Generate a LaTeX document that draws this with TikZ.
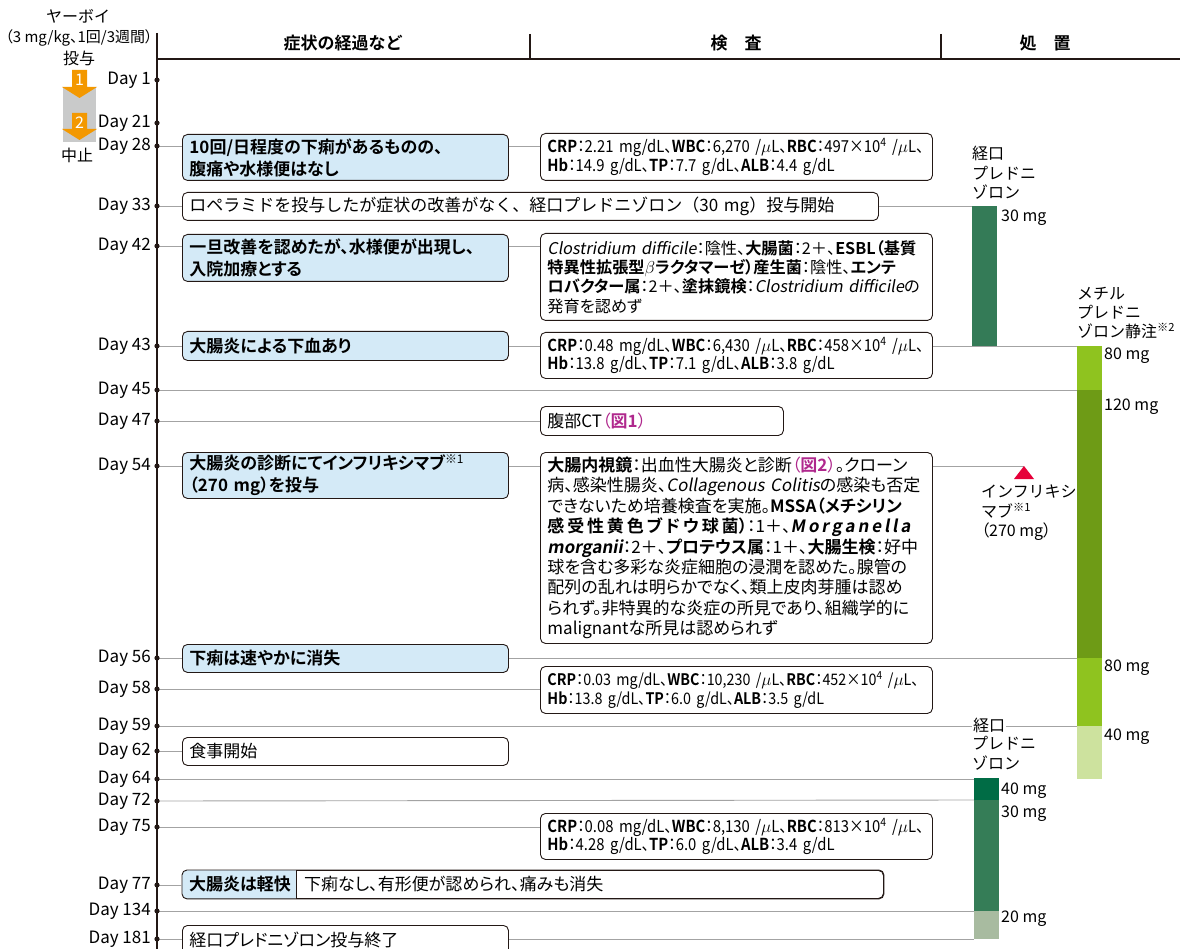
\documentclass[tikz,border=0pt]{standalone}
\usepackage{fontspec}
\setmainfont{Noto Sans CJK JP}[BoldFont={Noto Sans CJK JP Bold},ItalicFont={Noto Sans CJK JP},ItalicFeatures={FakeSlant=0.18},BoldItalicFont={Noto Sans CJK JP Bold},BoldItalicFeatures={FakeSlant=0.18}]
\newfontfamily\labf{Noto Sans CJK JP}[BoldFont={Noto Sans CJK JP Bold},ItalicFont={Noto Sans CJK JP},ItalicFeatures={FakeSlant=0.18},BoldItalicFont={Noto Sans CJK JP Bold},BoldItalicFeatures={FakeSlant=0.18},RawFeature={+palt}]
\newfontfamily\condf{Noto Sans CJK JP}[BoldFont={Noto Sans CJK JP Bold},FakeStretch=0.9,RawFeature={+palt}]
\definecolor{symblue}{HTML}{D4EAF7}
\definecolor{lgray}{HTML}{A3A3A3}
\definecolor{bdr}{HTML}{231815}
\definecolor{orng}{HTML}{F39800}
\definecolor{gbar}{HTML}{C9CACA}
\definecolor{mag}{HTML}{B0288D}
\definecolor{infred}{HTML}{E60039}
\definecolor{copa}{HTML}{347B57}
\definecolor{mpa}{HTML}{8FC31F}
\definecolor{mpb}{HTML}{6E9B16}
\definecolor{mpc}{HTML}{CDE29E}
\definecolor{opa}{HTML}{006C45}
\definecolor{opb}{HTML}{357D57}
\definecolor{opc}{HTML}{A8BBA0}
\begin{document}
\begin{tikzpicture}[x=1pt,y=-1pt,
  txt/.style={inner sep=0pt, font=\fontsize{16}{20}\selectfont},
  hdr/.style={inner sep=0pt, font=\fontsize{17}{18}\selectfont\bfseries},
  daylbl/.style={anchor=east, inner sep=0pt, font=\fontsize{17}{18}\selectfont},
  box/.style={draw=bdr, line width=0.9pt, rounded corners=5pt, anchor=north west, align=left, inner xsep=7pt, inner ysep=0pt},
  sym/.style={box, fill=symblue, font=\labf\fontsize{17}{22}\selectfont},
  wbox/.style={box, fill=white, font=\labf\fontsize{17}{22}\selectfont},
  labbox/.style={box, fill=white, font=\condf\fontsize{16.5}{18.5}\selectfont},
  jlab/.style 2 args={box, fill=white, font=\labf\fontsize{#1}{#2}\selectfont},
  lw/.style={minimum width=326pt, text width=312pt},
  rw/.style={minimum width=392pt, text width=378pt},
  conn/.style={draw=lgray, line width=0.9pt},
  dosebar/.style={anchor=north west, inner sep=0pt, outer sep=0pt, minimum width=25pt},
  dosetxt/.style={anchor=west, inner sep=0pt, font=\fontsize{16}{18}\selectfont},
  trlbl/.style={anchor=north west, align=left, inner sep=0pt, font=\fontsize{16}{19.5}\selectfont},
]
\useasboundingbox (0,0) rectangle (1180,949);

% ---- header and axis
\coordinate (axtop) at (157,33);
\coordinate (axbot) at (157,949);
\coordinate (hl) at (157,59);
\coordinate (hr) at (1180,59);
\draw[line width=1.6pt, bdr] (axtop) -- (axbot);
\draw[line width=1.8pt, bdr] (hl) -- (hr);
\coordinate (s1t) at (530,34); \coordinate (s1b) at (530,58);
\coordinate (s2t) at (941,34); \coordinate (s2b) at (941,58);
\draw[line width=1.2pt, bdr] (s1t) -- (s1b);
\draw[line width=1.2pt, bdr] (s2t) -- (s2b);
\node[hdr] (h1) at (343,43) {症状の経過など};
\node[hdr] (h2) at (736,43) {検\hspace{1em}査};
\node[hdr] (h3) at (1045,43) {処\hspace{1em}置};

% ---- left drug info
\node[txt, font=\fontsize{16}{18}\selectfont] (yv1) at (78,16) {ヤーボイ};
\node[txt, font=\labf\fontsize{15}{18}\selectfont] (yv2) at (79,38) {（3 mg/kg、1回/3週間）};
\node[txt, font=\fontsize{16}{18}\selectfont] (yv3) at (79,58) {投与};
\fill[gbar] (63,87) rectangle (96,142);
\fill[orng] (72,70) -- (87,70) -- (87,87) -- (97,87) -- (79.5,98) -- (62,87) -- (72,87) -- cycle;
\fill[orng] (72,113) -- (87,113) -- (87,129) -- (97,129) -- (79.5,140) -- (62,129) -- (72,129) -- cycle;
\node[txt, text=white, font=\fontsize{16}{18}\selectfont] (n1) at (79.5,80) {1};
\node[txt, text=white, font=\fontsize{16}{18}\selectfont] (n2) at (79.5,123) {2};
\node[txt, font=\fontsize{16}{18}\selectfont] (stop) at (77,155) {中止};

% ---- days
\foreach \n/\yy in {1/80,21/123,28/146,33/206,42/246,43/346,45/390,47/421,54/466,56/658,58/689,59/726,62/751,64/779,72/801,75/827,77/885,134/911,181/939}{
  \coordinate (d\n) at (157,\yy);
  \node[daylbl] (dl\n) at (151,\yy) {Day \n};
}

% ---- boxes
\node[sym, lw, minimum height=46pt] (b28) at (182,134) {\textbf{10回/日程度の下痢があるものの、}\\\textbf{腹痛や水様便はなし}};
\node[labbox, rw, minimum height=47pt] (l28) at (540,133) {\textbf{CRP}：2.21 mg/dL、\textbf{WBC}：6,270 /$\mu$L、\textbf{RBC}：497×10\textsuperscript{4} /$\mu$L、\\\textbf{Hb}：14.9 g/dL、\textbf{TP}：7.7 g/dL、\textbf{ALB}：4.4 g/dL};
\node[wbox, font=\fontsize{17}{22}\selectfont, minimum width=696pt, text width=682pt, minimum height=28pt] (b33) at (182,192) {ロペラミドを投与したが症状の改善がなく、経口プレドニゾロン（30 mg）投与開始};
\node[sym, lw, minimum height=47pt] (b42) at (182,234) {\textbf{一旦改善を認めたが、水様便が出現し、}\\\textbf{入院加療とする}};
\node[jlab={16.2}{19.3}, rw, minimum height=87pt] (l42) at (540,233) {\textit{Clostridium difficile}：陰性、\textbf{大腸菌}：2＋、\textbf{ESBL（基質}\\\textbf{特異性拡張型$\beta$ラクタマーゼ）産生菌}：陰性、\textbf{エンテ}\\\textbf{ロバクター属}：2＋、\textbf{塗抹鏡検}：\textit{Clostridium difficile}の\\発育を認めず};
\node[sym, lw, minimum height=29pt] (b43) at (182,331) {\textbf{大腸炎による下血あり}};
\node[labbox, rw, minimum height=46pt] (l43) at (540,332) {\textbf{CRP}：0.48 mg/dL、\textbf{WBC}：6,430 /$\mu$L、\textbf{RBC}：458×10\textsuperscript{4} /$\mu$L、\\\textbf{Hb}：13.8 g/dL、\textbf{TP}：7.1 g/dL、\textbf{ALB}：3.8 g/dL};
\node[wbox, minimum width=243pt, text width=229pt, minimum height=29pt] (ct47) at (540,406) {腹部CT\textcolor{mag}{（\textbf{図1}）}};
\node[sym, lw, minimum height=46pt] (b54) at (182,452) {\textbf{大腸炎の診断にてインフリキシマブ}\textsuperscript{※1}\\\textbf{（270 mg）を投与}};
\node[jlab={17}{20.4}, rw, minimum height=191pt] (l54) at (540,452) {\textbf{大腸内視鏡}：出血性大腸炎と診断\textcolor{mag}{（\textbf{図2}）}。クローン\\病、感染性腸炎、\textit{Collagenous Colitis}の感染も否定\\できないため培養検査を実施。\textbf{MSSA（メチシリン}\\\textbf{感\,受\,性\,黄\,色\,ブ\,ド\,ウ\,球\,菌）}：1＋、\textbf{\textit{M\,o\,r\,g\,a\,n\,e\,l\,l\,a}}\\\textbf{\textit{morganii}}：2＋、\textbf{プロテウス属}：1＋、\textbf{大腸生検}：好中\\球を含む多彩な炎症細胞の浸潤を認めた。腺管の\\配列の乱れは明らかでなく、類上皮肉芽腫は認め\\られず。非特異的な炎症の所見であり、組織学的に\\malignantな所見は認められず};
\node[sym, lw, minimum height=28pt] (b56) at (182,644) {\textbf{下痢は速やかに消失}};
\node[labbox, font=\condf\fontsize{15.9}{18.5}\selectfont, rw, minimum height=47pt] (l58) at (540,666) {\textbf{CRP}：0.03 mg/dL、\textbf{WBC}：10,230 /$\mu$L、\textbf{RBC}：452×10\textsuperscript{4} /$\mu$L、\\\textbf{Hb}：13.8 g/dL、\textbf{TP}：6.0 g/dL、\textbf{ALB}：3.5 g/dL};
\node[wbox, lw, minimum height=28pt] (b62) at (182,737) {食事開始};
\node[labbox, rw, minimum height=46pt] (l75) at (540,813) {\textbf{CRP}：0.08 mg/dL、\textbf{WBC}：8,130 /$\mu$L、\textbf{RBC}：813×10\textsuperscript{4} /$\mu$L、\\\textbf{Hb}：4.28 g/dL、\textbf{TP}：6.0 g/dL、\textbf{ALB}：3.4 g/dL};
\node[wbox, minimum width=701pt, text width=687pt, minimum height=28pt] (b77) at (182,870) {};
\begin{scope}
  \clip[rounded corners=5pt] (b77.north west) rectangle (b77.south east);
  \fill[symblue] (b77.north west) rectangle ([xshift=114pt]b77.south west);
\end{scope}
\coordinate (b77m) at ([xshift=114pt]b77.north west);
\draw[draw=bdr, line width=0.9pt] (b77m) -- (b77m |- b77.south);
\draw[draw=bdr, line width=0.9pt, rounded corners=5pt] (b77.north west) rectangle (b77.south east);
\node[anchor=west, inner sep=0pt, font=\labf\fontsize{17}{18}\selectfont\bfseries] (b77a) at ([xshift=7pt]b77.west) {大腸炎は軽快};
\node[anchor=west, inner sep=0pt, font=\labf\fontsize{17}{18}\selectfont] (b77b) at ([xshift=8pt]b77m |- b77.west) {下痢なし、有形便が認められ、痛みも消失};
\node[wbox, lw, minimum height=30pt] (b181) at (182,925) {経口プレドニゾロン投与終了};

% ---- treatment bars (nodes)
\node[dosebar, minimum height=140pt] (op1) at (972,206) {};
\node[dosebar, minimum height=44pt] (mp1) at (1077,346) {};
\node[dosebar, minimum height=268pt] (mp2) at (1077,390) {};
\node[dosebar, minimum height=68pt] (mp3) at (1077,658) {};
\node[dosebar, minimum height=53pt] (mp4) at (1077,726) {};
\node[dosebar, minimum height=22pt] (op2a) at (974,778) {};
\node[dosebar, minimum height=111pt] (op2b) at (974,800) {};
\node[dosebar, minimum height=28pt] (op2c) at (974,911) {};
\coordinate (infl) at (1024,466);

% ---- connectors
\draw[conn] (d28) -- (d28 -| b28.west);
\draw[conn] (b28.east |- d28) -- (l28.west |- d28);
\draw[conn] (d33) -- (d33 -| b33.west);
\draw[conn] (b33.east |- d33) -- (op1.west |- d33);
\draw[conn] (d42) -- (d42 -| b42.west);
\draw[conn] (b42.east |- d42) -- (l42.west |- d42);
\draw[conn] (d43) -- (d43 -| b43.west);
\draw[conn] (b43.east |- d43) -- (l43.west |- d43);
\draw[conn] (l43.east |- d43) -- (mp1.north west);
\draw[conn] (d45) -- (mp2.north west);
\draw[conn] (d47) -- (ct47.west |- d47);
\draw[conn] (d54) -- (d54 -| b54.west);
\draw[conn] (b54.east |- d54) -- (l54.west |- d54);
\draw[conn] (l54.east |- d54) -- (infl);
\draw[conn] (d56) -- (d56 -| b56.west);
\draw[conn] (b56.east |- d56) -- (mp3.north west);
\draw[conn] (d58) -- (l58.west |- d58);
\draw[conn] (d59) -- (mp4.north west);
\draw[conn] (d62) -- (d62 -| b62.west);
\draw[conn] (d64) -- (op2a.west |- d64);
\draw[conn] (d72) -- (op2b.north west);
\draw[conn] (d75) -- (l75.west |- d75);
\draw[conn] (d77) -- (d77 -| b77.west);
\draw[conn] (d134) -- (op2c.north west);
\draw[conn] (d181) -- (d181 -| b181.west);
\draw[conn] (b181.east |- d181) -- (op2c.south west);

% bars on top of lines
\fill[copa] (op1.north west) rectangle (op1.south east);
\fill[mpa] (mp1.north west) rectangle (mp1.south east);
\fill[mpb] (mp2.north west) rectangle (mp2.south east);
\fill[mpa] (mp3.north west) rectangle (mp3.south east);
\fill[mpc] (mp4.north west) rectangle (mp4.south east);
\fill[opa] (op2a.north west) rectangle (op2a.south east);
\fill[opb] (op2b.north west) rectangle (op2b.south east);
\fill[opc] (op2c.north west) rectangle (op2c.south east);

% day dots
\foreach \n in {1,21,28,33,42,43,45,47,54,56,58,59,62,64,72,75,77,134,181}{
  \fill[bdr] (d\n) circle (2.6pt);
}

% ---- treatment labels
\fill[infred] (infl) -- ++(-10,13) -- ++(20,0) -- cycle;
\node[trlbl] (opl1) at (972,146) {経口\\プレドニ\\ゾロン};
\node[trlbl, font=\fontsize{16}{19}\selectfont] (mpl) at (1077,287) {メチル\\プレドニ\\ゾロン静注\textsuperscript{※2}};
\node[trlbl] (infll) at (981,485) {インフリキシ\\マブ\textsuperscript{※1}\\{\labf（270 mg）}};
\node[anchor=west, inner sep=1pt, fill=white, font=\fontsize{16}{19.5}\selectfont] (opl2a) at (972,725) {経口};
\node[trlbl, font=\fontsize{16}{20}\selectfont] (opl2b) at (972,736) {プレドニ\\ゾロン};
\node[dosetxt] (t1) at (1001,218) {30 mg};
\node[dosetxt] (t2) at (1104,356) {80 mg};
\node[dosetxt] (t3) at (1104,407) {120 mg};
\node[dosetxt] (t4) at (1104,668) {80 mg};
\node[dosetxt] (t5) at (1104,737) {40 mg};
\node[dosetxt] (t6) at (1001,791) {40 mg};
\node[dosetxt] (t7) at (1001,814) {30 mg};
\node[dosetxt] (t8) at (1001,919) {20 mg};
\end{tikzpicture}
\end{document}
